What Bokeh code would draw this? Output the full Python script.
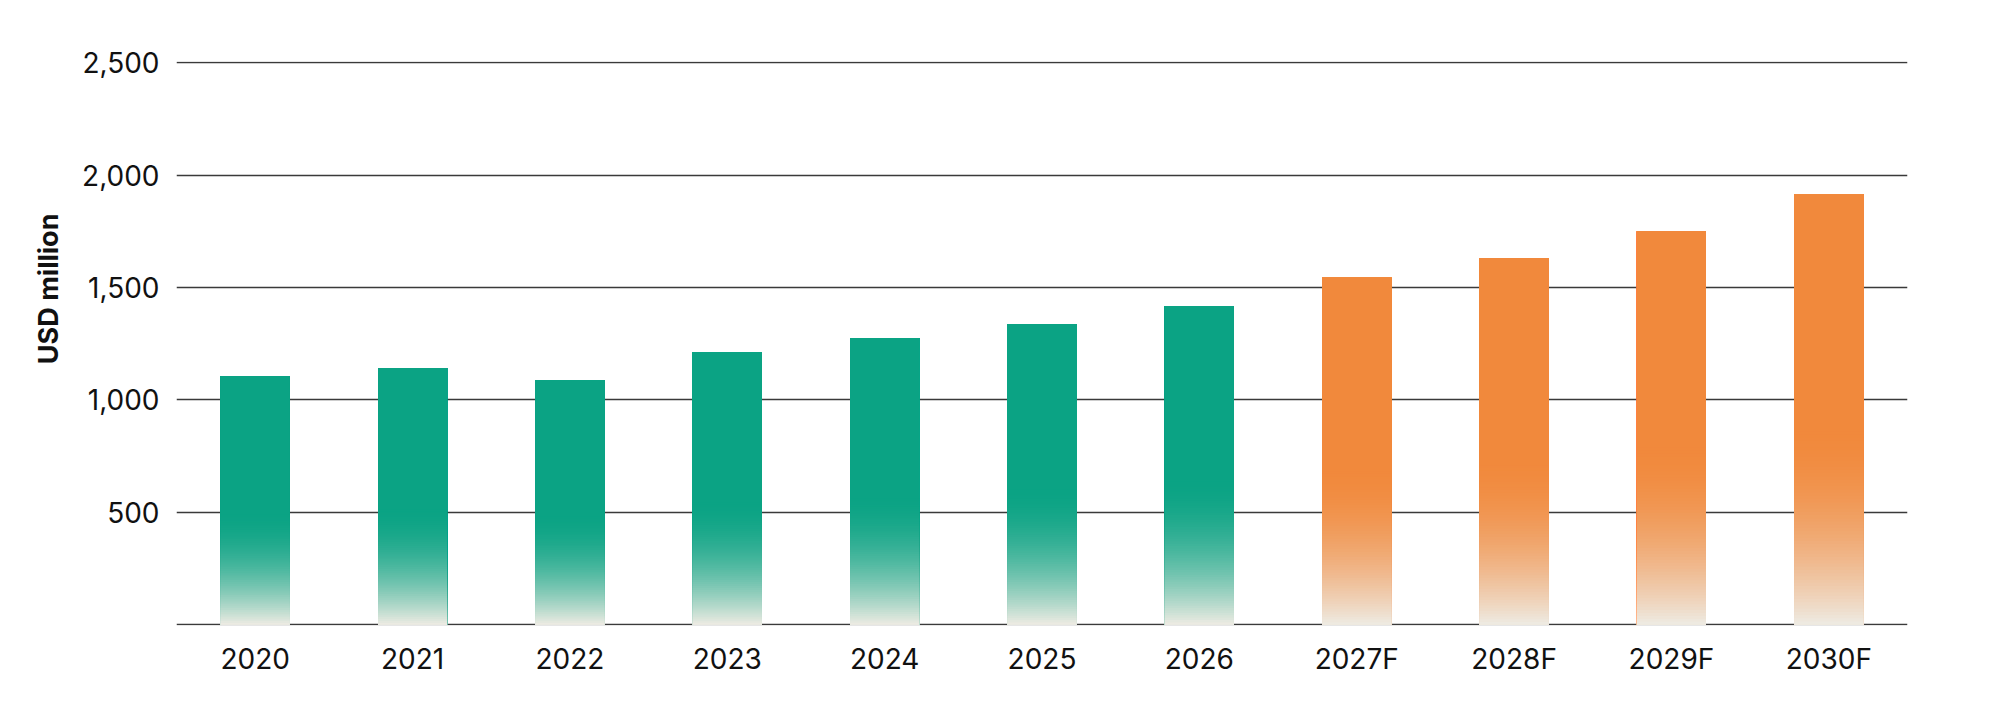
import math
from bokeh.plotting import figure
from bokeh.layouts import row
from bokeh.models import ColumnDataSource, FixedTicker, Range1d, FactorRange
from bokeh.core.properties import value
from bokeh.embed import file_html
from bokeh.resources import INLINE

# ---------------- data ----------------
years = ["2020", "2021", "2022", "2023", "2024", "2025", "2026",
         "2027F", "2028F", "2029F", "2030F"]
market_size = [1105, 1142, 1086, 1211, 1273, 1335, 1415,
               1544, 1630, 1750, 1914]
is_forecast = [False, False, False, False, False, False, False,
               True, True, True, True]
y_tick_values = [500, 1000, 1500, 2000, 2500]
y_tick_labels = ["500", "1,000", "1,500", "2,000", "2,500"]
grid_values = [0, 500, 1000, 1500, 2000, 2500]
y_axis_title = "USD million"
y_title_center = 1494      # axis value at which the rotated title is centred

# ---------------- style ----------------
GREEN = (11, 163, 132)
ORANGE = (241, 137, 60)
FADE_BOTTOM = (238, 235, 227)
FADE_TOP_FRAC = 0.45     # fraction of bar height where the fade begins
FADE_STEPS = 60
FONT = "Inter"
H = 691
TOP, BOTTOM = 61, 66
LEFT_W = 66
FRAME_LEFT = 176
FRAME_W = 1731


def to_hex(rgb):
    return "#%02x%02x%02x" % tuple(int(round(c)) for c in rgb)


def mix(a, b, w):
    return tuple(a[i] * (1 - w) + b[i] * w for i in range(3))


# gradient bars: full bar (stacked so its edges match the faded part),
# then cumulative lower slices drawn from tallest to shortest
xs, tops, colors = [], [], []
for yr, v, fc in zip(years, market_size, is_forecast):
    base = ORANGE if fc else GREEN
    fade_top = v * FADE_TOP_FRAC
    for _ in range(FADE_STEPS):
        xs.append(yr); tops.append(v); colors.append(to_hex(base))
    for k in reversed(range(FADE_STEPS)):
        t = (k + 0.5) / FADE_STEPS
        w = (1 - t) ** 1.8
        xs.append(yr)
        tops.append(fade_top * (k + 1) / FADE_STEPS)
        colors.append(to_hex(mix(base, FADE_BOTTOM, w)))

src = ColumnDataSource(dict(x=xs, top=tops, bottom=[0] * len(xs), color=colors))

y_range = Range1d(-3, 2505)

p = figure(
    x_range=FactorRange(*years),
    y_range=y_range,
    width=1984 - LEFT_W, height=H,
    output_backend="svg", toolbar_location=None,
    min_border_left=FRAME_LEFT - LEFT_W,
    min_border_right=1984 - FRAME_LEFT - FRAME_W,
    min_border_top=TOP, min_border_bottom=BOTTOM,
)
p.outline_line_color = None
p.background_fill_color = "white"
p.border_fill_color = "white"

cat_w = FRAME_W / len(years)
p.vbar(x="x", top="top", bottom="bottom", width=69 / cat_w, source=src,
       fill_color="color", line_color=None)

# grid
p.xgrid.grid_line_color = None
p.ygrid.ticker = FixedTicker(ticks=grid_values)
p.ygrid.grid_line_color = "#3a3a3a"
p.ygrid.grid_line_width = 1.3

# axes
for ax in (p.xaxis, p.yaxis):
    ax.axis_line_color = None
    ax.major_tick_line_color = None
    ax.minor_tick_line_color = None
    ax.major_tick_out = 0
    ax.major_tick_in = 0
    ax.major_label_text_font = FONT
    ax.major_label_text_font_size = "28px"
    ax.major_label_text_color = "#111111"

p.yaxis.ticker = FixedTicker(ticks=y_tick_values)
p.yaxis.major_label_overrides = {v: s for v, s in zip(y_tick_values, y_tick_labels)}
p.yaxis.major_label_standoff = 17
p.xaxis.major_label_standoff = 16

# narrow companion figure holding the rotated y-axis title
t = figure(
    x_range=Range1d(0, LEFT_W), y_range=y_range,
    width=LEFT_W, height=H,
    output_backend="svg", toolbar_location=None,
    min_border_left=0, min_border_right=0,
    min_border_top=TOP, min_border_bottom=BOTTOM,
    x_axis_location=None, y_axis_location=None,
)
t.outline_line_color = None
t.grid.visible = False
t.background_fill_color = "white"
t.border_fill_color = "white"
t.text(x=[47.5], y=[y_title_center], text=[y_axis_title], angle=math.pi / 2,
       text_align="center", text_baseline="middle",
       text_font=value(FONT), text_font_size="27px", text_font_style="bold",
       text_color="#111111")

layout = row(t, p, spacing=0)
open("out.html", "w").write(file_html(layout, INLINE))
